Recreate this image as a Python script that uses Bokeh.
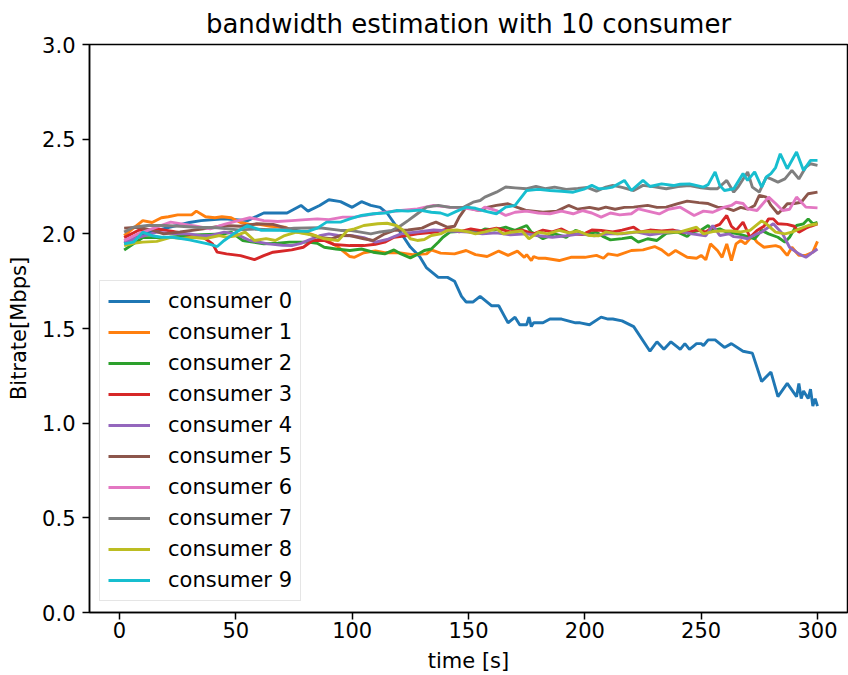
from bokeh.plotting import figure
from bokeh.models import Range1d, FixedTicker, NumeralTickFormatter, Legend, LegendItem
from bokeh.embed import file_html
from bokeh.resources import INLINE

# ---- data (time [s], bitrate [Mbps]) ----
c0 = [(2,1.95),(10,2.0),(20,2.03),(30,2.06),(35,2.07),(45,2.08),(55,2.07),(62,2.11),(72,2.11),(78,2.15),(81,2.12),(86,2.15),(90,2.18),(95,2.17),(100,2.14),(104,2.17),(108,2.15),(112,2.14),(115,2.11),(119,2.04),(125,1.93),(129,1.88),(132,1.82),(137,1.77),(141,1.77),(144,1.75),(147,1.67),(149,1.64),(152,1.64),(155,1.67),(160,1.62),(163,1.62),(167,1.53),(170,1.56),(172,1.52),(175,1.52),(176,1.56),(177,1.51),(178,1.53),(182,1.53),(185,1.55),(190,1.55),(196,1.53),(198,1.53),(202,1.52),(207,1.56),(210,1.55),(212,1.55),(216,1.54),(221,1.51),(228,1.38),(231,1.43),(234,1.39),(237,1.43),(240,1.40),(241,1.39),(243,1.42),(245,1.39),(247,1.41),(248,1.42),(250,1.42),(251,1.41),(253,1.44),(256,1.44),(260,1.40),(263,1.42),(268,1.38),(272,1.37),(276,1.22),(280,1.27),(283,1.14),(287,1.21),(291,1.14),(292,1.21),(293,1.13),(294,1.17),(296,1.13),(297,1.18),(298,1.09),(299,1.13),(300,1.09)]
c1 = [(2,1.99),(6,2.03),(10,2.07),(14,2.06),(18,2.085),(21,2.09),(25,2.10),(28,2.10),(31,2.10),(33,2.12),(37,2.09),(41,2.085),(44,2.09),(48,2.085),(52,2.06),(56,2.05),(60,2.05),(65,2.04),(71,2.035),(76,2.01),(82,2.0),(88,1.974),(94,1.93),(99,1.88),(101,1.876),(105,1.90),(110,1.91),(114,1.90),(120,1.90),(126,1.89),(132,1.894),(134,1.915),(138,1.898),(144,1.894),(149,1.912),(153,1.89),(158,1.88),(163,1.909),(167,1.886),(171,1.909),(174,1.876),(175,1.89),(177,1.859),(178,1.88),(180,1.871),(183,1.871),(189,1.859),(194,1.876),(200,1.876),(205,1.886),(208,1.871),(210,1.894),(214,1.886),(220,1.912),(225,1.915),(230,1.933),(233,1.915),(236,1.886),(239,1.912),(244,1.876),(248,1.871),(250,1.886),(252,1.863),(254,1.947),(257,1.912),(259,1.876),(261,1.947),(263,1.859),(265,1.947),(267,1.965),(269,1.947),(272,1.99),(274,1.956),(277,1.929),(282,1.938),(284,1.93),(287,1.886),(289,1.929),(292,1.886),(295,1.886),(298,1.903),(300,1.96)]
c2 = [(2,1.915),(6,1.947),(10,1.98),(20,1.98),(28,1.99),(35,1.995),(45,2.0),(48,2.009),(53,1.965),(62,1.947),(68,1.95),(73,1.956),(81,1.956),(85,1.95),(88,1.929),(93,1.92),(99,1.912),(104,1.92),(109,1.903),(114,1.894),(118,1.915),(121,1.894),(125,1.873),(128,1.891),(131,1.912),(134,1.92),(137,1.956),(139,1.982),(142,2.009),(147,2.013),(151,2.018),(155,2.013),(157,2.026),(161,2.02),(166,2.035),(170,2.018),(175,2.044),(177,2.009),(180,1.99),(182,1.974),(187,2.0),(192,1.982),(196,2.018),(200,2.0),(205,2.009),(208,1.985),(211,1.968),(216,1.975),(220,1.982),(223,1.956),(227,1.974),(231,1.965),(235,2.003),(240,2.009),(244,1.986),(246,2.009),(250,2.02),(253,2.044),(255,2.018),(258,2.026),(261,2.009),(266,2.0),(273,1.974),(276,2.018),(279,2.0),(283,1.982),(286,1.956),(288,1.982),(291,2.044),(294,2.053),(296,2.079),(298,2.053),(300,2.06)]
c3 = [(2,1.98),(8,2.018),(16,2.026),(23,2.013),(30,1.996),(36,1.982),(40,1.947),(42,1.903),(46,1.894),(52,1.885),(58,1.864),(62,1.885),(66,1.903),(74,1.915),(79,1.929),(83,1.965),(88,1.965),(92,1.944),(99,1.938),(105,1.938),(110,1.945),(114,1.956),(118,1.982),(123,1.99),(128,2.0),(136,2.009),(141,2.026),(146,2.01),(151,2.026),(156,2.015),(162,2.03),(168,2.01),(173,2.02),(178,2.0),(182,2.02),(186,2.01),(190,2.026),(194,2.0),(199,1.996),(203,2.02),(207,2.018),(212,2.01),(216,2.02),(221,2.035),(224,2.01),(228,2.02),(233,2.015),(238,2.02),(243,2.005),(248,2.02),(252,2.01),(255,2.035),(258,2.05),(261,2.097),(263,2.04),(265,2.018),(268,2.062),(271,1.982),(274,2.018),(277,2.04),(279,2.079),(281,2.079),(283,2.053),(287,2.05),(290,2.04),(292,2.009),(295,2.03),(297,2.04),(300,2.053)]
c4 = [(2,1.956),(8,1.98),(16,2.009),(24,2.0),(30,2.0),(35,1.99),(39,1.991),(45,2.009),(50,2.0),(56,1.965),(60,1.956),(64,1.947),(70,1.94),(74,1.938),(78,1.95),(81,1.965),(86,1.99),(90,2.0),(94,1.991),(100,1.99),(105,1.98),(110,1.956),(115,1.97),(121,2.0),(128,2.01),(135,2.02),(142,2.015),(150,2.01),(156,2.0),(162,2.005),(168,1.995),(175,2.0),(180,1.99),(186,1.982),(192,1.99),(198,2.0),(204,1.99),(210,2.0),(216,2.0),(222,2.01),(228,1.995),(234,2.005),(240,2.015),(246,2.0),(252,1.99),(255,2.044),(258,1.991),(262,2.0),(264,1.985),(267,1.982),(270,1.974),(274,2.0),(276,2.009),(281,2.053),(285,2.0),(288,1.929),(292,1.894),(295,1.876),(298,1.903),(300,1.92)]
c5 = [(2,2.03),(8,2.035),(14,2.02),(19,2.0),(26,2.01),(36,2.026),(45,2.044),(52,2.04),(59,2.053),(66,2.05),(73,2.026),(79,2.01),(85,1.982),(91,1.974),(95,1.991),(99,1.991),(105,1.974),(109,1.965),(114,2.0),(118,2.018),(124,2.02),(130,2.03),(134,2.053),(136,2.062),(141,2.035),(144,2.04),(146,2.088),(149,2.141),(152,2.13),(155,2.123),(158,2.14),(162,2.15),(167,2.159),(171,2.14),(175,2.123),(182,2.114),(188,2.12),(193,2.15),(197,2.13),(202,2.14),(206,2.13),(209,2.141),(213,2.13),(217,2.14),(221,2.141),(227,2.15),(231,2.14),(235,2.141),(240,2.16),(244,2.173),(249,2.165),(253,2.16),(257,2.141),(260,2.14),(264,2.123),(267,2.14),(270,2.13),(273,2.15),(275,2.203),(278,2.194),(280,2.15),(283,2.106),(285,2.13),(287,2.159),(290,2.16),(293,2.167),(296,2.212),(300,2.22)]
c6 = [(2,1.965),(8,2.0),(16,2.035),(22,2.062),(28,2.05),(33,2.04),(39,2.026),(45,2.05),(51,2.07),(56,2.085),(62,2.07),(68,2.065),(74,2.07),(80,2.075),(85,2.079),(90,2.075),(96,2.088),(101,2.088),(107,2.1),(114,2.114),(121,2.123),(128,2.132),(135,2.15),(142,2.141),(149,2.135),(155,2.123),(157,2.141),(162,2.123),(166,2.097),(170,2.114),(175,2.12),(180,2.11),(185,2.106),(190,2.12),(195,2.106),(199,2.123),(203,2.11),(207,2.088),(211,2.11),(215,2.1),(220,2.106),(223,2.132),(227,2.12),(232,2.105),(236,2.13),(241,2.141),(247,2.097),(251,2.12),(255,2.114),(260,2.141),(263,2.15),(265,2.167),(268,2.16),(270,2.132),(274,2.123),(279,2.194),(282,2.16),(285,2.123),(288,2.13),(291,2.194),(295,2.141),(300,2.137)]
c7 = [(2,2.009),(6,2.035),(12,2.044),(19,2.044),(26,2.04),(33,2.035),(42,2.032),(51,2.021),(59,2.025),(68,2.021),(75,2.03),(86,2.032),(95,2.018),(99,2.018),(103,2.01),(108,2.0),(112,2.01),(117,2.018),(121,2.044),(124,2.07),(128,2.106),(132,2.141),(137,2.15),(142,2.14),(148,2.141),(152,2.167),(155,2.176),(157,2.194),(162,2.22),(166,2.247),(170,2.243),(175,2.238),(179,2.25),(183,2.238),(187,2.247),(192,2.235),(197,2.24),(201,2.245),(205,2.226),(209,2.247),(212,2.256),(216,2.245),(221,2.229),(225,2.256),(230,2.248),(235,2.238),(240,2.25),(245,2.255),(250,2.243),(254,2.238),(257,2.238),(261,2.282),(264,2.22),(266,2.25),(270,2.327),(272,2.247),(275,2.22),(278,2.3),(280,2.29),(283,2.273),(286,2.29),(289,2.335),(292,2.29),(295,2.353),(297,2.37),(300,2.362)]
c8 = [(2,1.938),(6,1.95),(10,1.956),(16,1.96),(22,1.982),(27,1.975),(31,1.982),(37,1.975),(43,1.991),(46,1.982),(50,1.99),(54,2.009),(58,1.965),(63,1.975),(67,1.965),(71,1.991),(76,2.009),(80,2.0),(84,1.991),(88,1.974),(94,1.965),(98,2.018),(101,2.026),(105,2.044),(111,2.053),(115,2.056),(119,2.044),(122,2.018),(125,1.974),(128,1.965),(131,1.97),(134,1.991),(138,2.0),(141,2.018),(145,2.02),(150,2.01),(153,2.0),(157,2.01),(162,2.026),(165,2.0),(169,2.01),(173,2.015),(176,1.974),(180,2.009),(184,2.0),(189,2.018),(193,2.005),(197,2.015),(202,1.991),(206,1.99),(209,2.01),(214,2.0),(221,2.009),(227,2.012),(234,2.01),(241,2.01),(248,2.035),(251,2.0),(255,2.012),(258,2.015),(263,2.015),(267,2.01),(271,2.018),(276,2.068),(278,2.053),(282,2.009),(286,2.0),(289,2.009),(292,2.025),(296,2.044),(300,2.053)]
c9 = [(2,1.947),(6,1.956),(10,2.009),(14,1.99),(18,1.982),(23,1.982),(30,1.968),(35,1.955),(39,1.944),(42,1.933),(45,1.965),(49,2.0),(55,2.044),(61,2.018),(67,2.02),(74,2.015),(81,2.013),(85,2.03),(89,2.062),(95,2.062),(99,2.079),(104,2.097),(109,2.106),(114,2.11),(119,2.123),(124,2.12),(129,2.125),(134,2.114),(138,2.11),(141,2.097),(145,2.12),(149,2.141),(153,2.135),(157,2.12),(162,2.106),(166,2.141),(170,2.15),(175,2.229),(180,2.235),(185,2.229),(190,2.225),(195,2.22),(200,2.238),(203,2.256),(206,2.238),(209,2.24),(212,2.247),(217,2.282),(220,2.229),(225,2.282),(228,2.25),(233,2.264),(238,2.255),(241,2.262),(245,2.264),(251,2.247),(253,2.26),(256,2.327),(258,2.256),(260,2.229),(264,2.238),(268,2.318),(270,2.282),(273,2.327),(276,2.247),(278,2.3),(280,2.318),(282,2.35),(284,2.423),(287,2.344),(291,2.432),(294,2.335),(297,2.388),(300,2.388)]

series = [c0, c1, c2, c3, c4, c5, c6, c7, c8, c9]
labels = [f"consumer {i}" for i in range(10)]
colors = ["#1f77b4", "#ff7f0e", "#2ca02c", "#d62728", "#9467bd",
          "#8c564b", "#e377c2", "#7f7f7f", "#bcbd22", "#17becf"]
x_ticks = [0, 50, 100, 150, 200, 250, 300]
y_ticks = [0.0, 0.5, 1.0, 1.5, 2.0, 2.5, 3.0]

FONT = "DejaVu Sans"

p = figure(width=848, height=675, output_backend="svg", toolbar_location=None,
           x_range=Range1d(-12.9, 312.9), y_range=Range1d(0, 3.0),
           title="bandwidth estimation with 10 consumer")
p.min_border_left = 89
p.min_border_right = 1
p.min_border_top = 44
p.min_border_bottom = 63

p.title.text_font = FONT
p.title.text_font_size = "26px"
p.title.text_font_style = "normal"
p.title.text_color = "black"
p.title.align = "center"
p.title.standoff = 12

p.xgrid.visible = False
p.ygrid.visible = False
p.outline_line_color = "black"
p.outline_line_width = 1.5
p.outline_line_alpha = 1.0

for ax in (p.xaxis[0], p.yaxis[0]):
    ax.axis_line_width = 1.5
    ax.major_tick_line_width = 1.5
    ax.major_tick_out = 7
    ax.major_tick_in = 0
    ax.minor_tick_line_color = None
    ax.major_label_text_font = FONT
    ax.major_label_text_font_size = "21px"
    ax.major_label_text_color = "black"
    ax.axis_label_text_font = FONT
    ax.axis_label_text_font_size = "21px"
    ax.axis_label_text_font_style = "normal"
    ax.axis_label_text_color = "black"

p.xaxis.ticker = FixedTicker(ticks=x_ticks)
p.yaxis.ticker = FixedTicker(ticks=y_ticks)
p.yaxis.formatter = NumeralTickFormatter(format="0.0")
p.xaxis.axis_label = "time [s]"
p.yaxis.axis_label = "Bitrate[Mbps]"
p.xaxis.major_label_standoff = 2
p.xaxis.axis_label_standoff = 8
p.yaxis.major_label_standoff = 7
p.yaxis.axis_label_standoff = 8

items = []
for data, lab, col in zip(series, labels, colors):
    xs = [d[0] for d in data]
    ys = [d[1] for d in data]
    r = p.line(xs, ys, line_color=col, line_width=2.9)
    items.append(LegendItem(label=lab, renderers=[r]))

legend = Legend(items=items, location=(10, 11))
legend.label_text_font = FONT
legend.label_text_font_size = "21px"
legend.label_text_color = "black"
legend.glyph_width = 42
legend.glyph_height = 24
legend.label_height = 24
legend.label_standoff = 18
legend.spacing = 7
legend.padding = 8
legend.margin = 0
legend.border_line_color = "#cccccc"
legend.border_line_width = 1.2
legend.background_fill_alpha = 0.8
p.add_layout(legend, "center")

open("out.html", "w").write(file_html(p, INLINE))
